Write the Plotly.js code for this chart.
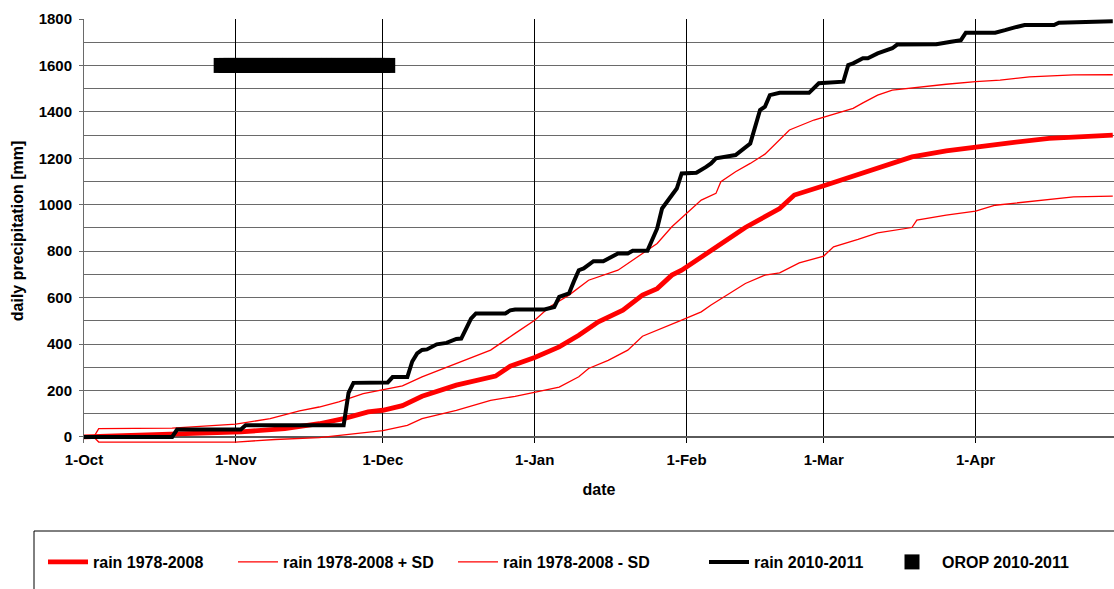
<!DOCTYPE html>
<html>
<head>
<meta charset="utf-8">
<script src="https://cdn.plot.ly/plotly-3.0.1.min.js"></script>
<style>
  html, body { margin: 0; padding: 0; background: #fff; }
  #chart { width: 1114px; height: 589px; }
</style>
</head>
<body>
<div id="chart"></div>
<script>
// ---- Data ----
const meanDates = ['2010-10-01','2010-10-19','2010-11-02','2010-11-11','2010-11-18','2010-11-23','2010-11-28','2010-12-01','2010-12-05','2010-12-09','2010-12-16','2010-12-24','2010-12-27','2011-01-01','2011-01-06','2011-01-10','2011-01-14','2011-01-19','2011-01-23','2011-01-26','2011-01-29','2011-01-31','2011-02-04','2011-02-06','2011-02-13','2011-02-20','2011-02-23','2011-03-01','2011-03-08','2011-03-14','2011-03-19','2011-03-26','2011-04-01','2011-04-08','2011-04-16','2011-04-29'];
const meanValues = [0,10,22,36,57,79,108,115,135,175,223,262,305,342,388,438,496,546,611,639,697,718,773,804,902,984,1042,1082,1130,1176,1206,1232,1250,1267,1286,1300];

const plusDates = ['2010-10-03','2010-10-04','2010-10-19','2010-11-01','2010-11-08','2010-11-14','2010-11-18','2010-11-22','2010-11-27','2010-12-01','2010-12-05','2010-12-09','2010-12-16','2010-12-23','2010-12-28','2011-01-01','2011-01-04','2011-01-08','2011-01-12','2011-01-18','2011-01-23','2011-01-26','2011-01-29','2011-02-01','2011-02-04','2011-02-07','2011-02-08','2011-02-11','2011-02-14','2011-02-17','2011-02-20','2011-02-22','2011-02-27','2011-03-04','2011-03-07','2011-03-09','2011-03-12','2011-03-15','2011-03-20','2011-03-26','2011-04-01','2011-04-06','2011-04-12','2011-04-21','2011-04-29'];
const plusValues = [0,36,38,55,79,112,129,151,187,203,220,259,316,374,446,503,560,611,675,718,790,833,905,963,1020,1049,1099,1142,1178,1218,1279,1322,1365,1396,1415,1439,1472,1494,1506,1519,1530,1537,1551,1559,1560];

const minusDates = ['2010-10-03','2010-10-04','2010-11-01','2010-11-09','2010-11-18','2010-11-26','2010-12-01','2010-12-06','2010-12-09','2010-12-16','2010-12-23','2010-12-28','2011-01-01','2011-01-06','2011-01-10','2011-01-12','2011-01-16','2011-01-20','2011-01-23','2011-01-27','2011-01-31','2011-02-04','2011-02-06','2011-02-13','2011-02-17','2011-02-20','2011-02-24','2011-03-01','2011-03-03','2011-03-08','2011-03-12','2011-03-19','2011-03-20','2011-03-26','2011-04-01','2011-04-05','2011-04-12','2011-04-21','2011-04-29'];
const minusValues = [0,-22,-22,-11,-3,17,27,50,79,115,158,175,194,215,259,295,330,374,434,467,503,539,568,661,697,707,750,779,819,851,879,902,934,955,973,998,1013,1034,1037];

const rainDates = ['2010-10-01','2010-10-19','2010-10-20','2010-11-02','2010-11-03','2010-11-23','2010-11-24','2010-11-25','2010-12-02','2010-12-03','2010-12-06','2010-12-07','2010-12-08','2010-12-09','2010-12-10','2010-12-12','2010-12-14','2010-12-16','2010-12-17','2010-12-18','2010-12-19','2010-12-20','2010-12-26','2010-12-27','2010-12-28','2011-01-03','2011-01-05','2011-01-06','2011-01-08','2011-01-09','2011-01-10','2011-01-11','2011-01-13','2011-01-15','2011-01-18','2011-01-20','2011-01-21','2011-01-24','2011-01-26','2011-01-27','2011-01-29','2011-01-30','2011-01-31','2011-02-03','2011-02-05','2011-02-06','2011-02-07','2011-02-11','2011-02-14','2011-02-16','2011-02-17','2011-02-18','2011-02-20','2011-02-26','2011-02-28','2011-03-05','2011-03-06','2011-03-07','2011-03-09','2011-03-10','2011-03-12','2011-03-15','2011-03-16','2011-03-24','2011-03-27','2011-03-29','2011-03-30','2011-04-05','2011-04-07','2011-04-08','2011-04-09','2011-04-11','2011-04-17','2011-04-18','2011-04-24','2011-04-29'];
const rainValues = [0,0,32,32,50,50,190,233,235,258,258,325,360,375,377,399,405,422,424,470,510,532,532,545,549,549,560,603,618,670,718,726,757,757,790,790,802,802,898,984,1042,1070,1135,1138,1163,1178,1200,1214,1264,1408,1422,1472,1482,1482,1523,1530,1602,1609,1631,1631,1652,1674,1690,1691,1702,1709,1741,1741,1752,1756,1764,1774,1774,1784,1788,1790];

const oropDates = ['2010-10-29','2010-10-30','2010-10-31','2010-11-01','2010-11-02','2010-11-03','2010-11-04','2010-11-05','2010-11-06','2010-11-07','2010-11-08','2010-11-09','2010-11-10','2010-11-11','2010-11-12','2010-11-13','2010-11-14','2010-11-15','2010-11-16','2010-11-17','2010-11-18','2010-11-19','2010-11-20','2010-11-21','2010-11-22','2010-11-23','2010-11-24','2010-11-25','2010-11-26','2010-11-27','2010-11-28','2010-11-29','2010-11-30','2010-12-01','2010-12-02'];
const oropValues = [1600,1600,1600,1600,1600,1600,1600,1600,1600,1600,1600,1600,1600,1600,1600,1600,1600,1600,1600,1600,1600,1600,1600,1600,1600,1600,1600,1600,1600,1600,1600,1600,1600,1600,1600];

const seriesNames = ['rain 1978-2008', 'rain 1978-2008 + SD', 'rain 1978-2008 - SD', 'rain 2010-2011', 'OROP 2010-2011'];
const xTitle = 'date';
const yTitle = 'daily precipitation [mm]';

// ---- Traces ----
const FONT = '"Liberation Sans", Arial, sans-serif';
const traces = [
  { x: plusDates, y: plusValues, name: seriesNames[1], type: 'scatter', mode: 'lines',
    line: { color: '#ff0000', width: 1.3 }, legend: 'legend2' },
  { x: minusDates, y: minusValues, name: seriesNames[2], type: 'scatter', mode: 'lines',
    line: { color: '#ff0000', width: 1.3 }, legend: 'legend3' },
  { x: meanDates, y: meanValues, name: seriesNames[0], type: 'scatter', mode: 'lines',
    line: { color: '#ff0000', width: 4.8 }, legend: 'legend' },
  { x: rainDates, y: rainValues, name: seriesNames[3], type: 'scatter', mode: 'lines',
    line: { color: '#000000', width: 4 }, legend: 'legend4' },
  { x: oropDates, y: oropValues, name: seriesNames[4], type: 'scatter', mode: 'markers',
    marker: { color: '#000000', symbol: 'square', size: 15, line: { width: 0 } }, legend: 'legend5' }
];

// ---- Layout ----
const W = 1114, H = 589, L = 84, T = 19, B = 146;
const plotW = W - L, plotH = H - T - B;
const px2x = p => (p - L) / plotW;
const py2y = p => (H - B - p) / plotH;

function legendAt(left, iw) {
  return {
    x: px2x(left), y: py2y(562), xanchor: 'left', yanchor: 'middle',
    orientation: 'h', bgcolor: 'rgba(0,0,0,0)', borderwidth: 0,
    itemwidth: iw, font: { family: FONT, size: 16, color: '#000', weight: 'bold' }
  };
}

const layout = {
  width: W, height: H,
  margin: { l: L, r: 0, t: T, b: B, pad: 0 },
  paper_bgcolor: '#ffffff', plot_bgcolor: '#ffffff',
  font: { family: FONT, color: '#000', weight: 'bold' },
  showlegend: true,
  xaxis: {
    type: 'date',
    range: ['2010-10-01', '2011-04-29 06:00'],
    tick0: '2010-10-01', dtick: 'M1', tickformat: '%-d-%b',
    showgrid: true, gridcolor: '#000000', gridwidth: 1,
    ticks: '', showline: false, zeroline: false,
    tickfont: { family: FONT, size: 15, color: '#000', weight: 'bold' },
    ticklabelstandoff: 6,
    title: { text: xTitle, font: { family: FONT, size: 16, color: '#000', weight: 'bold' }, standoff: 16 },
    fixedrange: true
  },
  yaxis: {
    range: [-26, 1800],
    tick0: 0, dtick: 200,
    showgrid: true, gridcolor: '#6a6a6a', gridwidth: 1,
    minor: { dtick: 100, showgrid: true, gridcolor: '#6a6a6a', gridwidth: 1 },
    ticks: 'outside', ticklen: 4, tickcolor: '#6a6a6a', tickwidth: 1,
    showline: true, linecolor: '#6a6a6a', linewidth: 1,
    zeroline: true, zerolinecolor: '#5a5a5a', zerolinewidth: 1.5,
    tickfont: { family: FONT, size: 15, color: '#000', weight: 'bold' },
    ticklabelstandoff: 4,
    title: { text: yTitle, font: { family: FONT, size: 16, color: '#000', weight: 'bold' }, standoff: 11 },
    fixedrange: true
  },
  legend: legendAt(43, 40),
  legend2: legendAt(233, 40),
  legend3: legendAt(453, 40),
  legend4: legendAt(704, 40),
  legend5: legendAt(882, 50),
  shapes: [
    { type: 'rect', xref: 'paper', yref: 'paper',
      x0: px2x(34), x1: px2x(1130), y0: py2y(531), y1: py2y(600),
      line: { color: '#000', width: 1 }, fillcolor: 'rgba(0,0,0,0)', layer: 'above' }
  ]
};

Plotly.newPlot('chart', traces, layout, { displayModeBar: false, staticPlot: true });
</script>
</body>
</html>
